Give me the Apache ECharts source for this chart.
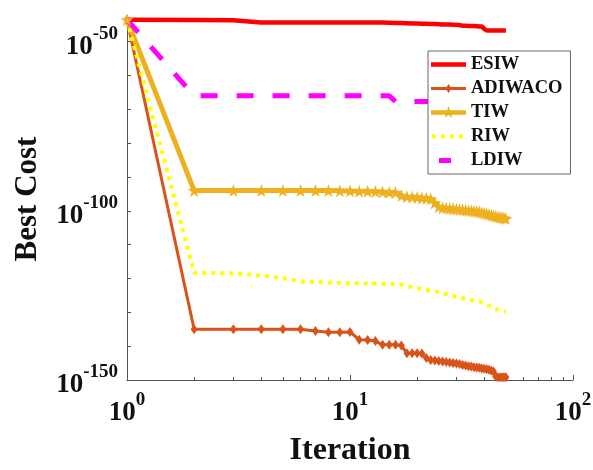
<!DOCTYPE html>
<html>
<head>
<meta charset="utf-8">
<script src="https://cdn.jsdelivr.net/npm/echarts@6/dist/echarts.min.js"></script>
<style>
  html, body { margin: 0; padding: 0; background: #ffffff; }
  #chart { width: 593px; height: 470px; }
</style>
</head>
<body>
<div id="chart"></div>
<script>
// Iteration numbers (log-scaled x axis)
const iterations = [1, 2, 3, 4, 5, 6, 7, 8, 9, 10,
  11, 12, 13, 14, 15, 16, 17, 18, 19, 20,
  21, 22, 23, 24, 25, 26, 27, 28, 29, 30,
  31, 32, 33, 34, 35, 36, 37, 38, 39, 40,
  41, 42, 43, 44, 45, 46, 47, 48, 49, 50];

// Best cost of each method, stored as the base-10 exponent (cost = 10^value)
const esiw = [-43.5, -43.6, -43.7, -44.3, -44.3, -44.3, -44.3, -44.3, -44.3, -44.3,
  -44.3, -44.3, -44.3, -44.35, -44.4, -44.45, -44.5, -44.55, -44.6, -44.65,
  -44.7, -44.7, -44.75, -44.8, -44.85, -44.9, -44.9, -44.95, -45.0, -45.0,
  -45.1, -45.3, -45.3, -45.35, -45.4, -45.4, -45.45, -45.5, -45.5, -46.2,
  -46.7, -46.7, -46.7, -46.7, -46.7, -46.7, -46.7, -46.7, -46.7, -46.7];

const adiwaco = [-43.5, -135.0, -135.0, -135.0, -135.0, -135.0, -135.5, -135.9, -135.9, -135.8,
  -138.1, -138.2, -138.5, -139.6, -139.6, -139.6, -139.8, -142.1, -142.1, -142.1,
  -142.2, -143.5, -144.1, -144.2, -144.4, -144.5, -144.7, -144.8, -145.0, -145.1,
  -145.3, -145.6, -145.7, -145.9, -146.0, -146.2, -146.3, -146.4, -146.6, -146.7,
  -146.8, -146.95, -147.2, -147.5, -149.0, -149.2, -149.2, -149.2, -149.2, -149.2];

const tiw = [-43.5, -94.0, -94.0, -94.0, -94.0, -94.0, -94.0, -94.0, -94.05, -94.1,
  -94.2, -94.2, -94.3, -94.4, -94.5, -94.6, -95.5, -95.8, -95.9, -96.0,
  -96.2, -96.3, -96.4, -97.6, -98.8, -99.1, -99.2, -99.3, -99.4, -99.5,
  -99.6, -99.7, -99.8, -99.9, -100.0, -100.1, -100.2, -100.3, -100.5, -100.7,
  -100.9, -101.1, -101.3, -101.5, -101.6, -101.8, -101.9, -102.0, -102.1, -102.3];

const riw = [-43.5, -118.3, -118.5, -119.1, -119.9, -120.9, -121.0, -121.2, -121.3, -121.4,
  -121.4, -121.5, -121.5, -121.6, -121.6, -121.7, -121.8, -122.2, -122.5, -122.8,
  -123.1, -123.4, -123.6, -123.8, -124.0, -124.3, -124.6, -124.9, -125.1, -125.4,
  -125.6, -125.8, -126.0, -126.2, -126.4, -126.6, -126.7, -126.8, -127.1, -127.4,
  -127.7, -128.0, -128.3, -128.7, -129.0, -129.2, -129.4, -129.6, -129.7, -129.8];

const ldiw = [-43.5, -66.0, -66.0, -66.0, -66.0, -66.0, -66.0, -66.0, -66.0, -66.0,
  -66.0, -66.0, -66.0, -66.0, -66.0, -67.7, -67.7, -67.7, -67.7, -67.7,
  -67.7, -67.7, -67.7, -67.7, -67.8, -67.8, -67.8, -67.9, -67.9, -67.9,
  -68.0, -68.0, -68.0, -68.0, -68.0, -68.1, -68.1, -68.1, -68.1, -68.2,
  -68.2, -68.2, -68.2, -68.2, -68.3, -68.3, -68.3, -68.3, -68.3, -68.3];

// Y axis: exponent ticks and labelled exponents
const yTickExponents = [-150, -140, -130, -120, -110, -100, -90, -80, -70, -60, -50];
const yLabelExponents = [-150, -100, -50];

const seriesNames = ['ESIW', 'ADIWACO', 'TIW', 'RIW', 'LDIW'];
const seriesColors = ['#ff0000', '#d95319', '#edb120', '#ffff00', '#ff00ff'];

const FONT = '"Liberation Serif", "Times New Roman", serif';
const STAR = 'path://M50,0L61.17,34.63L97.55,34.55L68.07,55.87L79.39,90.45L50,69L20.61,90.45L31.93,55.87L2.45,34.55L38.83,34.63Z';

// Legend glyphs drawn in a 35x18 box; the two tiny corner triangles pin the box size
const PIN = 'M0,0L0.01,0L0,0.01Z M35,18L34.99,18L35,17.99Z ';
const legendIcons = {
  ESIW: 'path://' + PIN + 'M0,6.75H35V11.25H0Z',
  ADIWACO: 'path://' + PIN + 'M0,7.5H35V10.5H0Z M17.5,4.5L20.5,9L17.5,13.5L14.5,9Z',
  TIW: 'path://' + PIN + 'M0,6.75H35V11.25H0Z M17.5,2.5L18.97,6.98L23.68,6.99L19.88,9.77L21.32,14.26L17.5,11.5L13.68,14.26L15.12,9.77L11.32,6.99L16.03,6.98Z',
  RIW: 'path://' + PIN + 'M1,7H5V11H1Z M10,7H14V11H10Z M19,7H23V11H19Z M28,7H32V11H28Z',
  LDIW: 'path://' + PIN + 'M8,6.5H20V11.5H8Z'
};

const pairs = vals => iterations.map((it, k) => [it, vals[k]]);

const powRich = {
  b: { fontFamily: FONT, fontWeight: 'bold', fontSize: 27, color: '#111', padding: [10, 0, 0, 0] },
  s: { fontFamily: FONT, fontWeight: 'bold', fontSize: 19, color: '#111', padding: [0, 0, 16, 0] }
};

const chart = echarts.init(document.getElementById('chart'), null, { renderer: 'canvas' });

chart.setOption({
  animation: false,
  backgroundColor: '#ffffff',
  grid: { left: 127, right: 20, top: 18, bottom: 90, containLabel: false, outerBoundsMode: 'none' },
  xAxis: {
    type: 'log',
    logBase: 10,
    min: 1,
    max: 100,
    name: 'Iteration',
    nameLocation: 'middle',
    nameGap: 55,
    nameTextStyle: { fontFamily: FONT, fontWeight: 'bold', fontSize: 32, color: '#111' },
    axisLine: { show: true, lineStyle: { color: '#555', width: 1 } },
    axisTick: { show: true, inside: true, length: 5, lineStyle: { color: '#555' } },
    minorTick: { show: true, splitNumber: 9, length: 3, lineStyle: { color: '#555' } },
    splitLine: { show: false },
    minorSplitLine: { show: false },
    axisLabel: {
      margin: 10,
      formatter: v => '{b|10}{s|' + Math.round(Math.log10(v)) + '}',
      rich: powRich
    }
  },
  yAxis: {
    type: 'value',
    min: -150,
    max: -43,
    name: 'Best Cost',
    nameLocation: 'middle',
    nameRotate: 90,
    nameGap: 84,
    nameTextStyle: { fontFamily: FONT, fontWeight: 'bold', fontSize: 31, color: '#111' },
    axisLine: { show: true, lineStyle: { color: '#555', width: 1 } },
    axisTick: { show: true, inside: true, length: 4, customValues: yTickExponents, lineStyle: { color: '#555' } },
    splitLine: { show: false },
    axisLabel: {
      margin: 9,
      customValues: yLabelExponents,
      formatter: v => '{b|10}{s|' + v + '}',
      rich: powRich
    }
  },
  legend: {
    orient: 'vertical',
    left: 428,
    top: 51,
    padding: [4, 8, 4, 3],
    itemWidth: 35,
    itemHeight: 18,
    itemGap: 5,
    backgroundColor: '#ffffff',
    borderColor: '#666',
    borderWidth: 1,
    borderRadius: 0,
    textStyle: { fontFamily: FONT, fontWeight: 'bold', fontSize: 18.5, color: '#111', lineHeight: 18 },
    data: seriesNames.map(n => ({ name: n, icon: legendIcons[n], itemStyle: { borderWidth: 0 } }))
  },
  series: [
    {
      name: seriesNames[0], type: 'line', data: pairs(esiw),
      symbol: 'none', color: seriesColors[0],
      lineStyle: { width: 4.5, color: seriesColors[0] }
    },
    {
      name: seriesNames[1], type: 'line', data: pairs(adiwaco),
      symbol: 'diamond', symbolSize: [7, 10], showAllSymbol: true, color: seriesColors[1],
      itemStyle: { color: seriesColors[1] },
      lineStyle: { width: 3, color: seriesColors[1] }
    },
    {
      name: seriesNames[2], type: 'line', data: pairs(tiw),
      symbol: STAR, symbolSize: 13, showAllSymbol: true, color: seriesColors[2],
      itemStyle: { color: seriesColors[2] },
      lineStyle: { width: 5, color: seriesColors[2] }
    },
    {
      name: seriesNames[3], type: 'line', data: pairs(riw),
      symbol: 'none', color: seriesColors[3],
      lineStyle: { width: 4, color: seriesColors[3], type: [4, 5] }
    },
    {
      name: seriesNames[4], type: 'line', data: pairs(ldiw),
      symbol: 'none', color: seriesColors[4],
      lineStyle: { width: 5, color: seriesColors[4], type: [17, 19] }
    }
  ]
});
</script>
</body>
</html>
